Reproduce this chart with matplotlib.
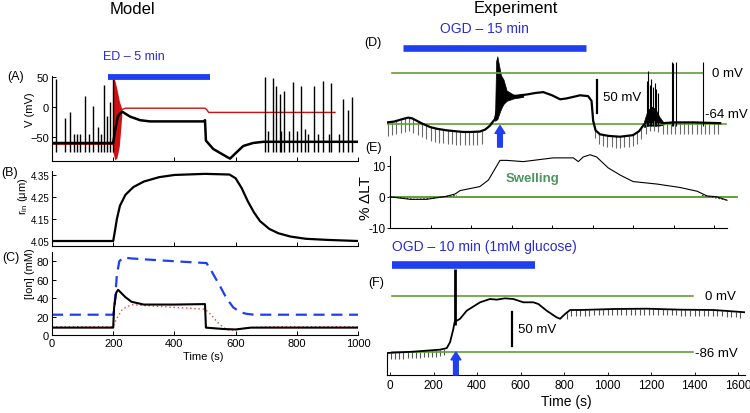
import numpy as np
import matplotlib
matplotlib.use('Agg')
import matplotlib.pyplot as plt

plt.rcParams['font.family'] = ['Liberation Sans', 'DejaVu Sans']
plt.rcParams['mathtext.fontset'] = 'custom'
plt.rcParams['mathtext.rm'] = 'Liberation Sans'

# ---------------- Model (A): membrane potential ----------------
a_time = [0, 198, 200, 206, 215, 222, 230, 255, 288, 320, 495, 500, 503, 527, 571, 582, 598, 625, 657, 690, 1000]
a_volt = [-60, -60, -60, -40, -16, -11, -8, -16, -22, -24, -24, -22, -56, -70, -83, -86, -78, -65, -60, -58, -58]
a_red_time = [0, 198, 225, 240, 500, 505, 512, 925]
a_red_volt = [-62, -62, -5, -2, -2, -4, -9, -9]
a_redfill_time = [197, 199, 205, 212, 220, 228]
a_redfill_upper = [-60, 50, 45, 30, 10, -3]
a_redfill_lower = [-62, -75, -88, -85, -65, -15]
a_spike_time = [12, 42, 59, 72, 82, 91, 107, 120, 134, 150, 160, 170, 179, 190, 199,
                696, 706, 722, 732, 745, 748, 758, 775, 788, 800, 814, 827, 837, 856, 869,
                886, 905, 912, 938, 951, 967, 980]
a_spike_peak = [47, -18, -8, -45, -45, -45, 18, -45, 2, -33, -45, 37, -15, 8, 50,
                50, -40, 48, 35, 22, -40, 27, -40, 42, -40, 35, -37, -45, 35, -45,
                43, -45, 40, -45, 13, -5, 17]
ed_bar = [183, 517]

# ---------------- Model (B): radius ----------------
b_time = [0, 200, 205, 212, 222, 240, 266, 300, 350, 400, 500, 580, 600, 620, 640, 660, 680, 710, 740, 780, 830, 900, 1000]
b_radius = [4.05, 4.05, 4.09, 4.15, 4.21, 4.26, 4.295, 4.32, 4.34, 4.35, 4.355, 4.352, 4.335, 4.29, 4.23, 4.18, 4.14, 4.105, 4.085, 4.07, 4.06, 4.055, 4.05]

# ---------------- Model (C): ion concentrations ----------------
c_time_k = [0, 200, 203, 210, 216, 225, 240, 260, 300, 400, 498, 500, 503, 560, 600, 650, 1000]
c_k = [8, 8, 30, 46, 49, 46, 41, 36, 33, 33, 33.5, 33.5, 8, 6.5, 6, 8, 8]
c_time_b = [0, 200, 205, 212, 220, 233, 260, 350, 450, 505, 520, 549, 570, 592, 614, 635, 660, 1000]
c_b = [22, 22, 35, 65, 80, 84, 83, 81, 79, 78, 70, 53, 40, 30, 25, 23, 22, 22]
c_time_r = [0, 200, 210, 230, 260, 300, 400, 500, 520, 540, 560, 580, 620, 700, 1000]
c_r = [9, 9, 17, 28, 33, 32, 30, 28, 22, 14, 8, 5, 7, 9, 9]
c_xticks = [0, 200, 400, 600, 800, 1000]
c_yticks = [0, 20, 40, 60, 80]

# ---------------- Experiment (D): OGD 15 min ----------------
d_time = [-15, 20, 60, 90, 110, 140, 163, 200, 232, 280, 320, 360, 400, 444, 470, 494, 505, 518,
          530, 560, 576, 609, 642, 675, 720, 757, 800, 840, 870, 905, 938, 978, 995, 1003, 1015,
          1037, 1080, 1136, 1200, 1230, 1250, 1270, 1300, 1348, 1400, 1500, 1630]
d_volt = [-62, -61, -58, -56, -57, -61, -64, -68, -70, -72, -73, -74, -74, -73.5, -71, -66, -62, -58,
          -45, -24, -28, -30, -28, -27, -25, -24, -28, -33, -32, -30, -28, -29, -35, -60, -72,
          -77, -79, -80, -78, -73, -66, -60, -58, -63, -62, -62, -63]
d_burst_time = [518.5, 524, 530, 538, 548, 560, 576, 609, 658]
d_burst_upper = [-55, 15, 21, 10, -3, -8, -22, -27, -27]
d_burst_lower = [-60, -59, -58, -52, -45, -39, -35, -32, -30]
d_late_time = [1255, 1270, 1290, 1310, 1330, 1350]
d_late_upper = [-60, -48, -42, -45, -55, -62]
d_late_lower = [-68, -66, -66, -66, -66, -65]
d_spike_time = [1267, 1276, 1283, 1290, 1300, 1307, 1314, 1325, 1391, 1399, 1411, 1544]
d_spike_peak = [-10, 3, -15, -8, -18, -12, -20, -25, 14, 12, 14, 14]
d_pulse_start = [-10, 1010]
d_pulse_end = [470, 1630]
d_pulse_step = [21, 21]
d_pulse_depth = [17, 14]
ogd15_bar = [64, 968]

# ---------------- Experiment (E): light transmittance ----------------
e_time = [0, 99, 181, 280, 321, 346, 444, 486, 543, 576, 658, 806, 905, 930, 954, 988, 1020,
          1077, 1136, 1200, 1318, 1432, 1516, 1565, 1615, 1664]
e_lt = [0, -0.8, -0.8, 0.2, 0.9, 2, 3.3, 5.4, 11.7, 11.7, 11.3, 12.5, 12.5, 11.3, 12.8, 13.5, 12.8,
        9.3, 7, 4.9, 4.1, 3, 1.8, 0.3, 0, -1.1]
e_dot_time = [0, 60, 120, 180, 240, 300, 330]
e_dot_lt = [0, -0.3, -0.8, -0.6, -0.2, 0.3, 0.5]
e_dot2_time = [1540, 1580, 1620, 1660]
e_dot2_lt = [0.5, 0, -0.5, -1.0]
e_yticks = [-10, 0, 10]
e_xticks = [0, 200, 400, 600, 800, 1000, 1200, 1400, 1600]

# ---------------- Experiment (F): OGD 10 min (1 mM glucose) ----------------
f_time = [-14, 106, 230, 261, 276, 291, 297, 322, 353, 414, 460, 491, 528, 567, 613, 659, 682, 720,
          766, 782, 805, 828, 874, 1027, 1180, 1333, 1487, 1632]
f_volt = [-87.5, -85.5, -82.4, -80, -71, -51, -40, -35, -22.5, -9.7, -4.6, -5.6, -3.6, -4.6, -9.7,
          -9.7, -12.3, -22.5, -32.8, -35, -27.6, -21.5, -21.5, -20, -19.5, -21, -21.5, -25]
f_spike_time = [297]
f_spike_peak = [41]
f_pulse_start = [-12, 812]
f_pulse_end = [262, 1625]
f_pulse_step = [18.5, 21]
f_pulse_depth = [10, 9]
f_xticks = [0, 200, 400, 600, 800, 1000, 1200, 1400, 1600]
ogd10_bar = [9, 667]

BLUE = '#1f3ff0'
BLUE_TXT = '#2b2bd6'
GREEN = '#62a033'
RED = '#d01010'

W, H = 750, 414
fig = plt.figure(figsize=(W / 100, H / 100), dpi=100)


def px_axes(x0, x1, ytop, ybot):
    return fig.add_axes([x0 / W, 1 - ybot / H, (x1 - x0) / W, (ybot - ytop) / H])


def ftext(x, y, s, **kw):
    fig.text(x / W, 1 - y / H, s, **kw)


def left_style(ax):
    for s in ['top', 'right']:
        ax.spines[s].set_visible(False)
    ax.spines['left'].set_linewidth(0.8)
    ax.spines['bottom'].set_linewidth(0.8)
    ax.tick_params(direction='in', length=3, width=0.7, labelsize=8, pad=2)
    ax.set_xlim(0, 1000)
    ax.set_xticks(c_xticks)


def pulses(ax, tr_t, tr_v, starts, ends, steps, depths, color):
    for s, e, st, dp in zip(starts, ends, steps, depths):
        tt = np.arange(s, e, st)
        base = np.interp(tt, tr_t, tr_v)
        ax.vlines(tt, base - dp, base, color=color, lw=0.8)


# ----- A -----
axA = px_axes(52, 358, 76.8, 162)
left_style(axA)
axA.set_ylim(-90, 52)
axA.set_yticks([-50, 0, 50])
axA.set_xticklabels([])
axA.plot(a_red_time, a_red_volt, color=RED, lw=1.0)
axA.fill_between(a_redfill_time, a_redfill_lower, a_redfill_upper, color=RED, lw=0)
axA.vlines(a_spike_time, -75, a_spike_peak, color='black', lw=1.0)
axA.plot(a_time, a_volt, color='black', lw=1.8)
axA.plot(ed_bar, [50, 50], color=BLUE, lw=4.2, solid_capstyle='butt', clip_on=False)
ftext(103, 57, 'ED – 5 min', color=BLUE_TXT, fontsize=9, va='center', ha='left')

# ----- B -----
axB = px_axes(52, 358, 172, 247)
left_style(axB)
axB.set_ylim(4.0273, 4.368)
axB.set_yticks([4.05, 4.15, 4.25, 4.35])
axB.set_yticklabels(['4.05', '4.15', '4.25', '4.35'])
axB.tick_params(labelsize=7)
axB.set_xticklabels([])
axB.plot(b_time, b_radius, color='black', lw=1.6)

# ----- C -----
axC = px_axes(52, 358, 253, 336)
left_style(axC)
axC.set_ylim(0, 90)
axC.set_yticks(c_yticks)
axC.plot(c_time_b, c_b, color=BLUE, lw=1.6, dashes=(5, 3))
axC.plot(c_time_r, c_r, color='#e04848', lw=1.0, linestyle=(0, (1, 2)))
axC.plot(c_time_k, c_k, color='black', lw=1.5)
ftext(203, 357, 'Time (s)', fontsize=8, ha='center', va='center')

# ----- D -----
axD = px_axes(387, 740, 25, 150)
axD.set_xlim(-14.8, 1728)
axD.set_ylim(-95.4, 61.5)
axD.axis('off')
pulses(axD, d_time, d_volt, d_pulse_start, d_pulse_end, d_pulse_step, d_pulse_depth, '#6a6a6a')
axD.plot([10, 1546], [0, 0], color=GREEN, lw=1.2)
axD.plot([-15, 1659], [-64, -64], color=GREEN, lw=1.2)
axD.plot(d_time, d_volt, color='black', lw=1.6)
axD.fill_between(d_burst_time, d_burst_lower, d_burst_upper, color='black', lw=0.5)
axD.fill_between(d_late_time, d_late_lower, d_late_upper, color='black', lw=0.5)
axD.vlines(d_spike_time, -66, d_spike_peak, color='black', lw=0.8)
axD.plot(ogd15_bar, [31.4, 31.4], color=BLUE, lw=4.8, solid_capstyle='butt')
axD.text(247, 56.5, 'OGD – 15 min', color=BLUE_TXT, fontsize=10, va='center', ha='left')
axD.plot([1022, 1022], [-8.8, -50.2], color='black', lw=1.6)
axD.text(1052, -30, '50 mV', fontsize=9.5, va='center', ha='left')
axD.text(1590, 0, '0 mV', fontsize=9.5, va='center', ha='left')
axD.text(1556, -51.5, '-64 mV', fontsize=9.5, va='center', ha='left')
axD.annotate('', xy=(543, -66), xytext=(543, -93),
             arrowprops=dict(arrowstyle='simple,head_length=0.75,head_width=0.95,tail_width=0.45',
                             mutation_scale=7.5, color=BLUE, shrinkA=0, shrinkB=0))

# ----- E -----
axE = px_axes(390, 740, 154.2, 229)
axE.set_xlim(0, 1728)
axE.set_ylim(-9.4, 14)
for s in ['top', 'right']:
    axE.spines[s].set_visible(False)
axE.spines['left'].set_bounds(-9.4, 13.1)
axE.spines['bottom'].set_bounds(0, 1664)
axE.spines['left'].set_linewidth(0.8)
axE.spines['bottom'].set_linewidth(0.8)
axE.set_xticks(e_xticks)
axE.set_xticklabels([])
axE.set_yticks(e_yticks)
axE.set_yticklabels(['-10', '0', '10'])
axE.tick_params(axis='x', direction='in', length=2.5, width=0.7)
axE.tick_params(axis='y', direction='out', length=2.5, width=0.7, labelsize=8.5, pad=1)
axE.plot([0, 1714], [0, 0], color=GREEN, lw=1.4, clip_on=False)
axE.plot(e_dot_time, e_dot_lt, color='#333333', lw=0.8, linestyle=(0, (1.5, 1.5)))
axE.plot(e_dot2_time, e_dot2_lt, color='#333333', lw=0.8, linestyle=(0, (1.5, 1.5)))
axE.plot(e_time, e_lt, color='black', lw=0.8)
axE.text(706, 6.2, 'Swelling', color='#4f9460', fontsize=9.5, fontweight='bold', ha='center', va='center')

# ----- F -----
axF = px_axes(387, 745, 240, 376)
axF.set_xlim(-13.8, 1632)
axF.set_ylim(-121.3, 87.5)
for s in ['top', 'right']:
    axF.spines[s].set_visible(False)
axF.spines['left'].set_bounds(-121.3, -88)
axF.spines['left'].set_linewidth(0.8)
axF.spines['bottom'].set_linewidth(0.8)
axF.set_yticks([])
axF.set_xticks(f_xticks)
axF.tick_params(axis='x', direction='in', length=2, width=0.6, labelsize=8.5, pad=3)
axF.set_xlabel('Time (s)', fontsize=10, labelpad=2)
pulses(axF, f_time, f_volt, f_pulse_start, f_pulse_end, f_pulse_step, f_pulse_depth, '#555555')
axF.plot([9, 1393], [0, 0], color=GREEN, lw=1.2)
axF.plot([9, 1393], [-86, -86], color=GREEN, lw=1.2)
axF.plot(f_time, f_volt, color='black', lw=1.3)
axF.vlines(f_spike_time, -45, f_spike_peak, color='black', lw=2.0)
axF.plot(ogd10_bar, [48, 48], color=BLUE, lw=5.5, solid_capstyle='butt')
axF.text(9, 76.8, 'OGD – 10 min (1mM glucose)', color=BLUE_TXT, fontsize=10, va='center', ha='left')
axF.plot([561, 561], [-24.6, -76.8], color='black', lw=1.6)
axF.text(589, -50.7, '50 mV', fontsize=9.5, va='center', ha='left')
axF.text(1448, 0, '0 mV', fontsize=9.5, va='center', ha='left')
axF.text(1402, -88, '-86 mV', fontsize=9.5, va='center', ha='left')
axF.annotate('', xy=(303, -86), xytext=(303, -121.3),
             arrowprops=dict(arrowstyle='simple,head_length=0.75,head_width=0.95,tail_width=0.45',
                             mutation_scale=7.5, color=BLUE, shrinkA=0, shrinkB=0))

# ----- labels -----
ftext(132, 9, 'Model', fontsize=12, ha='center', va='center')
ftext(516, 9, 'Experiment', fontsize=12, ha='center', va='center')
ftext(16, 77, '(A)', fontsize=9, ha='center', va='center')
ftext(10, 173, '(B)', fontsize=9, ha='center', va='center')
ftext(11, 258, '(C)', fontsize=9, ha='center', va='center')
ftext(373, 43, '(D)', fontsize=9, ha='center', va='center')
ftext(373, 148, '(E)', fontsize=9, ha='center', va='center')
ftext(376, 283, '(F)', fontsize=9, ha='center', va='center')
ftext(30, 110, 'V (mV)', fontsize=8, rotation=90, ha='center', va='center')
ftext(23, 196, r'r$_{\rm in}$ (μm)', fontsize=8, rotation=90, ha='center', va='center')
ftext(30, 274, '[Ion] (mM)', fontsize=8, rotation=90, ha='center', va='center')
ftext(366, 198, '% ΔLT', fontsize=11, rotation=90, ha='center', va='center')

fig.savefig('out.png', dpi=100)
